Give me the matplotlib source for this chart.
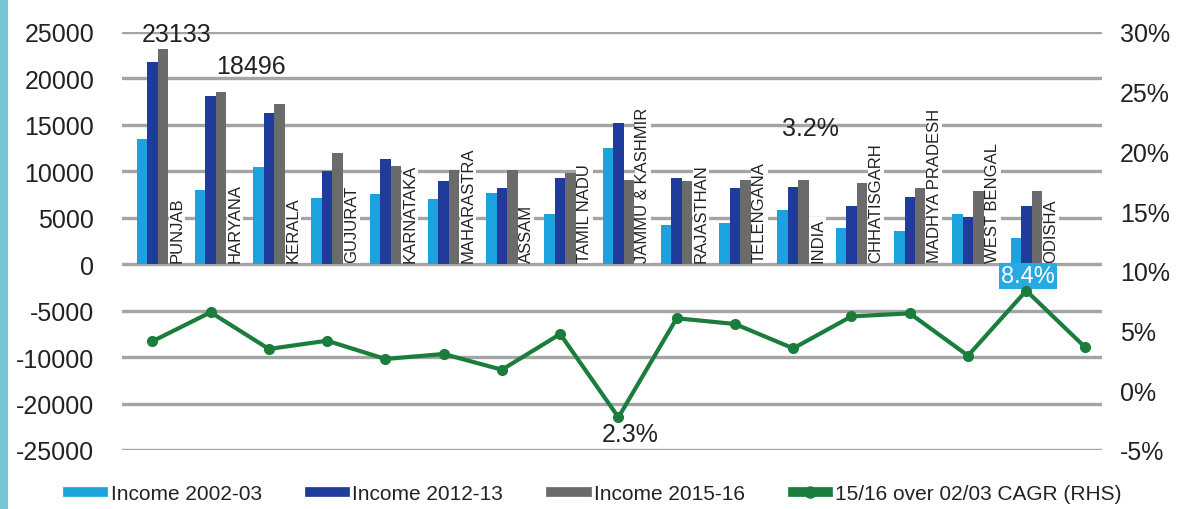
import numpy as np
from matplotlib import pyplot as plt
from matplotlib.lines import Line2D
from matplotlib.patches import Rectangle

plt.rcParams['font.family'] = ['Liberation Sans', 'DejaVu Sans']

states = ["PUNJAB", "HARYANA", "KERALA", "GUJURAT", "KARNATAKA", "MAHARASTRA", "ASSAM",
          "TAMIL NADU", "JAMMU & KASHMIR", "RAJASTHAN", "TELENGANA", "INDIA", "CHHATISGARH",
          "MADHYA PRADESH", "WEST BENGAL", "ODISHA", ""]

income_0203 = [13470, 8010, 10490, 7110, 7540, 7000, 7720, 5460, 12500, 4240, 4420, 5820,
               3950, 3590, 5390, 2800, np.nan]
income_1213 = [21730, 18140, 16270, 10060, 11310, 8980, 8160, 9230, 15160, 9230, 8160, 8260,
               6220, 7190, 5030, 6220, np.nan]
income_1516 = [23133, 18496, 17210, 11960, 10590, 10130, 10130, 9800, 9050, 8980, 9050, 9050,
               8730, 8160, 7830, 7830, np.nan]
cagr = [4.10, 6.53, 3.46, 4.15, 2.62, 3.04, 1.72, 4.71, -2.26, 6.03, 5.55, 3.51,
        6.19, 6.44, 2.90, 8.34, 3.65]

left_ticks = [-20000, -15000, -10000, -5000, 0, 5000, 10000, 15000, 20000, 25000]
left_labels = ["-25000", "-20000", "-10000", "-5000", "0", "5000", "10000", "15000", "20000", "25000"]
right_ticks = [-5, 0, 5, 10, 15, 20, 25, 30]

c_light = '#1ca3dd'
c_dark = '#1f3b9c'
c_gray = '#6b6b6b'
c_green = '#1b7d3c'

fig = plt.figure(figsize=(11.78, 5.10), dpi=100)
ax = fig.add_axes([0.1036, 0.1157, 0.8319, 0.8196])
fig.add_artist(Rectangle((0, 0), 8 / 1178, 1, transform=fig.transFigure, color='#74c5d6', lw=0))

x = np.arange(len(states))
w = 0.18
ax.bar(x - w, income_0203, w, color=c_light, zorder=3)
ax.bar(x, income_1213, w, color=c_dark, zorder=3)
ax.bar(x + w, income_1516, w, color=c_gray, zorder=3)

for i, s in enumerate(states):
    if s:
        ax.text(i + 0.29, 250, s, rotation=90, ha='left', va='bottom', fontsize=12,
                color='#222222', zorder=4,
                bbox=dict(facecolor='white', edgecolor='none', pad=0.5))

ax.set_ylim(-20000, 25000)
ax.set_xlim(-0.52, 16.3)
ax.set_yticks(left_ticks)
ax.set_yticklabels(left_labels)
ax.grid(axis='y', color='#a4a4a4', lw=2.4, zorder=0)
ax.set_xticks([])
for sp in ax.spines.values():
    sp.set_visible(False)
ax.tick_params(axis='y', length=0, pad=20, labelsize=18, labelcolor='#222222')

ax.annotate('23133', (0 + w, 23133), xytext=(14, 3), textcoords='offset pixels',
            ha='center', va='bottom', fontsize=18, color='#222222')
ax.annotate('18496', (1 + w, 18496), xytext=(30, 14), textcoords='offset pixels',
            ha='center', va='bottom', fontsize=18, color='#222222')

ax2 = ax.twinx()
ax2.plot(x, cagr, color=c_green, lw=3, marker='o', ms=7, zorder=5)
ax2.set_ylim(-5, 30)
ax2.set_yticks(right_ticks)
ax2.set_yticklabels([f"{t}%" for t in right_ticks])
for sp in ax2.spines.values():
    sp.set_visible(False)
ax2.tick_params(axis='y', length=0, pad=13, labelsize=18, labelcolor='#222222')

ax2.annotate('3.2%', (11, cagr[11]), xytext=(17, 220), textcoords='offset pixels',
             ha='center', va='center', fontsize=18, color='#222222')
ax2.annotate('2.3%', (8, cagr[8]), xytext=(12, -17), textcoords='offset pixels',
             ha='center', va='center', fontsize=18, color='#222222')
ax2.annotate('8.4%', (15, cagr[15]), xytext=(2, 15), textcoords='offset pixels',
             ha='center', va='center', fontsize=17, color='white',
             bbox=dict(facecolor='#27a9e1', edgecolor='none', pad=1.5))

handles = [Line2D([], [], color=c_light, lw=7),
           Line2D([], [], color=c_dark, lw=7),
           Line2D([], [], color=c_gray, lw=7),
           Line2D([], [], color=c_green, lw=7, marker='o', ms=8)]
labels = ["Income 2002-03", "Income 2012-13", "Income 2015-16", "15/16 over 02/03 CAGR (RHS)"]
fig.legend(handles, labels, loc='center', bbox_to_anchor=(0.505, 0.03), ncol=4, frameon=False,
           fontsize=15, handlelength=1.7, handletextpad=0.35, columnspacing=2.3,
           labelcolor='#222222')

fig.savefig('out.png', dpi=100, facecolor='white')
